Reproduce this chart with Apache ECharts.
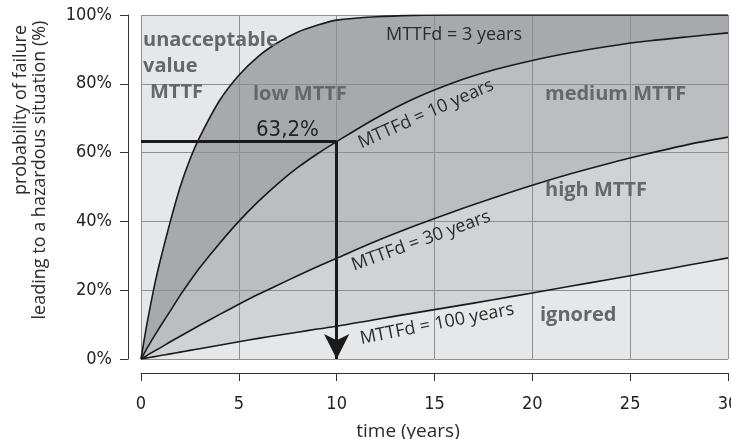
<!DOCTYPE html>
<html>
<head>
<meta charset="utf-8">
<script src="https://cdn.jsdelivr.net/npm/echarts@6/dist/echarts.min.js"></script>
<style>html,body{margin:0;padding:0;background:#fff}#c{width:731px;height:439px}</style>
</head>
<body>
<div id="c"></div>
<script>
// time (years)
const years   = [0, 0.25, 0.5, 0.75, 1, 1.5, 2, 2.5, 3, 4, 5, 6, 7, 8, 9, 10, 12, 14, 16, 18, 20, 22, 24, 26, 28, 30];
// probability of failure (%)
const mttf3   = [0, 8.5, 16, 23, 29, 40, 50, 58, 64.5, 75, 82.5, 88, 92, 95, 97, 98.5, 99.5, 99.9, 100, 100, 100, 100, 100, 100, 100, 100];
const mttf10  = [0, 2.5, 5, 7.3, 9.6, 14, 18.5, 22.6, 26.5, 33.5, 40, 45.8, 51, 55.6, 59.6, 63.2, 70, 75.8, 80.4, 84, 86.8, 89.1, 91, 92.5, 93.7, 94.8];
const mttf30  = [0, 0.8, 1.7, 2.5, 3.3, 5, 6.6, 8.2, 9.8, 12.9, 15.9, 18.8, 21.5, 24.2, 26.8, 29.3, 34.2, 38.7, 42.9, 46.8, 50.5, 53.9, 57, 59.8, 62.4, 64.5];
const mttf100 = [0, 0.25, 0.5, 0.75, 1, 1.5, 2, 2.5, 3, 4, 5, 6, 6.9, 7.8, 8.7, 9.5, 11.5, 13.4, 15.3, 17.2, 19.2, 21.2, 23.2, 25.2, 27.3, 29.4];
const xTicks = [0, 5, 10, 15, 20, 25, 30];
const yTicks = [0, 20, 40, 60, 80, 100];
const markT = 10, markP = 63.2;

const pairs = arr => years.map((x, i) => [x, arr[i]]);
const narrow = '"Liberation Sans Narrow", "DejaVu Sans Condensed", "Roboto", sans-serif';
const sans = '"Open Sans", "Noto Sans", sans-serif';

const curves = [
  {name: 'MTTFd = 3 years', data: mttf3, fill: '#a8a9ac'},
  {name: 'MTTFd = 10 years', data: mttf10, fill: '#bcbdc0'},
  {name: 'MTTFd = 30 years', data: mttf30, fill: '#d1d2d4'},
  {name: 'MTTFd = 100 years', data: mttf100, fill: '#e6e7e8'}
];

const series = [];
curves.forEach(c => {
  series.push({
    type: 'line', xAxisIndex: 0, yAxisIndex: 0, data: pairs(c.data), smooth: 0.3,
    symbol: 'none', lineStyle: {width: 0}, areaStyle: {color: c.fill, opacity: 1},
    z: 1, silent: true
  });
});
// grid lines above the fills
series.push({
  type: 'line', xAxisIndex: 0, yAxisIndex: 0, data: [], z: 3, silent: true,
  markLine: {
    silent: true, animation: false, symbol: 'none', label: {show: false},
    lineStyle: {color: '#8d8f91', width: 1, type: 'solid'},
    data: xTicks.map(v => ({xAxis: v})).concat(yTicks.map(v => ({yAxis: v})))
  }
});
curves.forEach(c => {
  series.push({
    type: 'line', xAxisIndex: 0, yAxisIndex: 0, data: pairs(c.data), smooth: 0.3,
    symbol: 'none', lineStyle: {width: 1.6, color: '#1a1a1a'}, z: 6, silent: true
  });
});
series.push({
  type: 'line', xAxisIndex: 0, yAxisIndex: 0, data: [], z: 8, silent: true,
  markLine: {
    silent: true, animation: false,
    lineStyle: {color: '#1a1a1a', width: 3, type: 'solid'},
    label: {show: false},
    data: [
      [{coord: [0, markP], symbol: 'none'}, {coord: [markT, markP], symbol: 'none'}],
      [{coord: [markT, markP], symbol: 'none'}, {coord: [markT, 0], symbol: 'arrow', symbolSize: [19, 25]}]
    ]
  }
});

const boldLab = (txt, x, y) => ({type: 'text', x, y, z: 20, style: {text: txt, fill: '#666769', font: 'bold 20px ' + sans, textVerticalAlign: 'middle'}});
const rotLab = (txt, x, y, deg) => ({type: 'text', x, y, rotation: deg * Math.PI / 180, z: 20,
  style: {text: txt, fill: '#2b2b2b', font: '18px ' + sans, textAlign: 'center', textVerticalAlign: 'middle'}});

const chart = echarts.init(document.getElementById('c'), null, {renderer: 'canvas'});
chart.setOption({
  animation: false,
  grid: {left: 141, right: 3, top: 15, bottom: 80, show: true, backgroundColor: '#e6e7e8', borderWidth: 0,
         containLabel: false, outerBoundsMode: 'none'},
  xAxis: [
    {type: 'value', min: xTicks[0], max: xTicks[xTicks.length - 1], interval: 5,
     axisLine: {show: false}, axisTick: {show: false}, axisLabel: {show: false}, splitLine: {show: false}},
    {type: 'value', min: xTicks[0], max: xTicks[xTicks.length - 1], interval: 5, position: 'bottom', offset: 14,
     axisLine: {show: true, onZero: false, lineStyle: {color: '#333', width: 1}},
     axisTick: {show: true, length: 8, lineStyle: {color: '#333', width: 1}},
     axisLabel: {show: true, margin: 22, color: '#222', fontSize: 18, fontFamily: narrow},
     splitLine: {show: false}}
  ],
  yAxis: [
    {type: 'value', min: yTicks[0], max: yTicks[yTicks.length - 1], interval: 20,
     axisLine: {show: false}, axisTick: {show: false}, axisLabel: {show: false}, splitLine: {show: false}},
    {type: 'value', min: yTicks[0], max: yTicks[yTicks.length - 1], interval: 20, position: 'left', offset: 13,
     axisLine: {show: true, onZero: false, lineStyle: {color: '#333', width: 1}},
     axisTick: {show: true, length: 8, lineStyle: {color: '#333', width: 1}},
     axisLabel: {show: true, margin: 16, color: '#222', fontSize: 18, fontFamily: narrow, formatter: '{value}%'},
     splitLine: {show: false}}
  ],
  series,
  graphic: [
    boldLab('unacceptable', 143, 40),
    boldLab('value', 143, 66),
    boldLab('MTTF', 150, 92),
    boldLab('low MTTF', 253, 94),
    boldLab('medium MTTF', 545, 94),
    boldLab('high MTTF', 545, 190),
    boldLab('ignored', 540, 315),
    {type: 'text', x: 256, y: 130, z: 20, style: {text: '63,2%', fill: '#222', font: '22px ' + narrow, textVerticalAlign: 'middle'}},
    {type: 'text', x: 386, y: 35, z: 20, style: {text: 'MTTFd = 3 years', fill: '#2b2b2b', font: '18px ' + sans, textVerticalAlign: 'middle'}},
    rotLab('MTTFd = 10 years', 426, 114, 24),
    rotLab('MTTFd = 30 years', 421, 241, 20),
    rotLab('MTTFd = 100 years', 437, 324, 11),
    {type: 'text', x: 408, y: 432, z: 20, style: {text: 'time (years)', fill: '#2b2b2b', font: '19px ' + sans, textAlign: 'center', textVerticalAlign: 'middle'}},
    {type: 'text', x: 21, y: 110, rotation: Math.PI / 2, z: 20, style: {text: 'probability of failure', fill: '#2b2b2b', font: '18px ' + sans, textAlign: 'center', textVerticalAlign: 'middle'}},
    {type: 'text', x: 40, y: 170, rotation: Math.PI / 2, z: 20, style: {text: 'leading to a hazardous situation (%)', fill: '#2b2b2b', font: '18px ' + sans, textAlign: 'center', textVerticalAlign: 'middle'}}
  ]
});
</script>
</body>
</html>
